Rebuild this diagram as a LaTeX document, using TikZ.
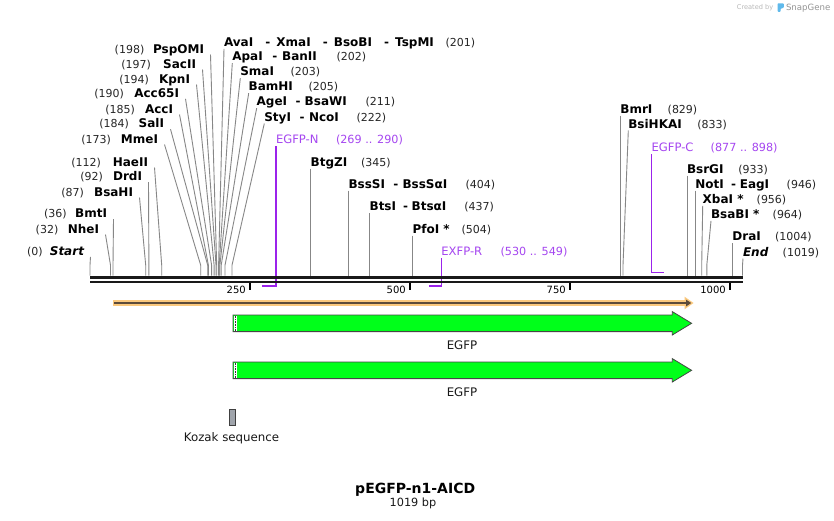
\documentclass[tikz,border=0pt]{standalone}
\usepackage{fontspec}
\setmainfont{DejaVu Sans}
\usetikzlibrary{calc}
\definecolor{enzgray}{RGB}{135,135,135}
\definecolor{primline}{RGB}{155,35,235}
\definecolor{primtxt}{RGB}{165,70,240}
\definecolor{gfp}{RGB}{0,255,26}
\definecolor{gfpedge}{RGB}{70,70,70}
\definecolor{orfo}{RGB}{250,200,125}
\definecolor{orfi}{RGB}{92,75,58}
\definecolor{koz}{RGB}{160,165,172}
\newcommand\dsep{\hspace{0pt plus 2fil}-\hspace{0pt plus 1fil}}
\tikzset{
  nm/.style={font=\fontsize{12}{14}\selectfont\bfseries, text=black, inner sep=0pt, outer sep=0pt},
  num/.style={font=\fontsize{11}{13}\selectfont, text=black!85, inner sep=0pt, outer sep=0pt},
  ptxt/.style={font=\fontsize{11.6}{13}\selectfont, text=primtxt, inner sep=0pt, outer sep=0pt},
  pnum/.style={font=\fontsize{11.2}{13}\selectfont, text=primtxt, inner sep=0pt, outer sep=0pt},
  enzline/.style={draw=enzgray, line width=0.9pt},
  primpath/.style={draw=primline, line width=1.5pt},
  ticklbl/.style={font=\fontsize{10}{12}\selectfont, text=black, inner sep=0pt, anchor=base east},
  featlbl/.style={font=\fontsize{11.8}{13}\selectfont, text=black!90, inner sep=0pt},
  gfparrow/.style={fill=gfp, draw=gfpedge, line width=0.8pt, line join=miter},
}
% left-side label: id, number, number right x, name, name right x, baseline y, cut x
\newcommand\leftenz[7]{%
  \node[num, anchor=base east] (#1-n) at (#3,#6) {#2};
  \node[nm, anchor=base east] (#1) at (#5,#6) {#4};
  \coordinate (#1-c) at (#7,275.7);
  \draw[enzline] ($(#1.base east)+(6.5,1.5)$) -- ($(#1-c)+(0,-10.5)$) -- (#1-c);
}
% right-side label: id, name, name left x, baseline y, number, number left x, cut x
\newcommand\rightenz[7]{%
  \node[nm, anchor=base west] (#1) at (#3,#4) {#2};
  \node[num, anchor=base west] (#1-n) at (#6,#4) {#5};
  \coordinate (#1-c) at (#7,275.7);
  \draw[enzline] ($(#1.base west)+(0,2.5)$) -- ($(#1-c)+(0,-10.5)$) -- (#1-c);
}
\begin{document}
\begin{tikzpicture}[x=1pt,y=-1pt]
\useasboundingbox (0,0) rectangle (834,520);
\fill[white] (0,0) rectangle (834,520);

% watermark
\node[anchor=base west, inner sep=0pt, text=black!28, font=\fontsize{6.6}{7}\selectfont] (wm1) at (736.7,9.5) {Created by};
\fill[rounded corners=0.8pt, color={rgb,255:red,95;green,185;blue,235}] (777.5,3.4) -- (783.8,3.4) -- (783.8,7.8) -- (780.6,8.6) -- (780.6,11.8) -- (777.5,11.8) -- cycle;
\node[anchor=base west, inner sep=0pt, text=black!42, font=\fontsize{8.6}{9}\selectfont] (wm2) at (785.8,10.6) {SnapGene};

% primers (drawn below the bar)
\node[ptxt, anchor=base west] (egfpn) at (276,143) {EGFP-N};
\node[pnum, anchor=base west] (egfpn-n) at (336,143) {(269 .. 290)};
\coordinate (egfpn-b) at (276,286);
\coordinate (egfpn-a) at (262.3,286);
\draw[primpath] ($(egfpn.base west)+(0,3)$) -- (egfpn-b) -- (egfpn-a);

\node[ptxt, anchor=base west] (exfpr) at (441.3,255.3) {EXFP-R};
\node[pnum, anchor=base west] (exfpr-n) at (500.5,255.3) {(530 .. 549)};
\coordinate (exfpr-b) at (441.3,286);
\coordinate (exfpr-a) at (429.2,286);
\draw[primpath] ($(exfpr.base west)+(0,3)$) -- (exfpr-b) -- (exfpr-a);

\node[ptxt, anchor=base west] (egfpc) at (651.5,151.3) {EGFP-C};
\node[pnum, anchor=base west] (egfpc-n) at (710.7,151.3) {(877 .. 898)};
\coordinate (egfpc-b) at (651.5,272.7);
\coordinate (egfpc-a) at (664.3,272.7);
\draw[primpath] ($(egfpc.base west)+(0,3)$) -- (egfpc-b) -- (egfpc-a);

% left labels
\leftenz{pspomi}{(198)}{144.3}{PspOMI}{204}{53}{216.7}
\leftenz{sacii}{(197)}{151}{SacII}{196}{68}{216.0}
\leftenz{kpni}{(194)}{149}{KpnI}{190}{83}{214.1}
\leftenz{acc65i}{(190)}{124}{Acc65I}{179}{97.3}{211.6}
\leftenz{acci}{(185)}{135}{AccI}{173}{113}{208.4}
\leftenz{sali}{(184)}{129}{SalI}{164}{127.7}{207.7}
\leftenz{mmei}{(173)}{111}{MmeI}{158}{143}{200.7}
\leftenz{haeii}{(112)}{101}{HaeII}{148}{166}{161.7}
\leftenz{drdi}{(92)}{103}{DrdI}{142}{180.7}{148.9}
\leftenz{bsahi}{(87)}{84}{BsaHI}{133}{196}{145.7}
\leftenz{bmti}{(36)}{66.7}{BmtI}{107}{217.7}{113}
\leftenz{nhei}{(32)}{58.3}{NheI}{99}{233}{110.5}
\leftenz{start}{(0)}{42.7}{\itshape Start}{84}{255.3}{90}

% middle and right labels
\rightenz{avai}{\makebox[216pt][l]{AvaI\dsep XmaI\dsep BsoBI\dsep TspMI}}{224}{46.3}{(201)}{445.7}{218.6}
\rightenz{apai}{\makebox[89.4pt][l]{ApaI\dsep BanII}}{232.3}{60.7}{(202)}{336.7}{219.2}
\rightenz{smai}{SmaI}{240.3}{75.7}{(203)}{290.7}{219.9}
\rightenz{bamhi}{BamHI}{248.7}{90.7}{(205)}{308.7}{221.2}
\rightenz{agei}{\makebox[94.3pt][l]{AgeI\dsep BsaWI}}{256.7}{105.7}{(211)}{365.7}{225}
\rightenz{styi}{\makebox[79pt][l]{StyI\dsep NcoI}}{264.3}{121}{(222)}{356.7}{232}
\rightenz{btgzi}{BtgZI}{310.7}{166}{(345)}{361}{310.7}
\rightenz{bsssi}{\makebox[103pt][l]{BssSI\dsep BssSαI}}{348.5}{188}{(404)}{465.7}{348.5}
\rightenz{btsi}{\makebox[80.4pt][l]{BtsI\dsep BtsαI}}{369.6}{210.7}{(437)}{464.3}{369.6}
\rightenz{pfoi}{PfoI *}{412.5}{233}{(504)}{461.7}{412.5}
\rightenz{bmri}{BmrI}{620.4}{113}{(829)}{667.7}{620.4}
\rightenz{bsihkai}{BsiHKAI}{628.3}{128}{(833)}{697.3}{623}
\rightenz{bsrgi}{BsrGI}{687}{173}{(933)}{738.3}{687}
\rightenz{noti}{\makebox[77.6pt][l]{NotI\dsep EagI}}{695.3}{188}{(946)}{786.7}{695.3}
\rightenz{xbai}{XbaI *}{702.7}{203.3}{(956)}{756.7}{701.7}
\rightenz{bsabi}{BsaBI *}{711}{218.3}{(964)}{772.7}{706.8}
\rightenz{drai}{DraI}{732.4}{240.7}{(1004)}{775}{732.4}
\rightenz{end}{\itshape End}{743}{256}{(1019)}{782.7}{742.5}

% sequence bar
\coordinate (seqL) at (90,0);
\coordinate (seqR) at (743,0);
\draw[black!90, line width=3.3pt] (seqL |- 0,277.3) -- (seqR |- 0,277.3);
\draw[black!90, line width=2.3pt] (seqL |- 0,281.8) -- (seqR |- 0,281.8);

% ticks
\foreach \x/\l in {250/250,410/500,570/750,730/1000}{
  \draw[black, line width=1.4pt] (\x,283) -- (\x,290);
  \node[ticklbl] at (\x-4,293) {\l};
}

% ORF arrow (thin, orange)
\fill[orfo] (112.7,300.3) rectangle (686,305.7);
\fill[orfo] (684.5,296.7) -- (693.5,303) -- (684.5,309.3) -- cycle;
\draw[orfi, line width=1.9pt] (114,303) -- (687,303);
\fill[orfi] (686,299.6) -- (691.2,303) -- (686,306.4) -- cycle;

% EGFP feature arrows
\foreach \c/\nm in {323.3/egfpA,370.3/egfpB}{
  \draw[gfparrow] (233,\c-8.3) -- (672.3,\c-8.3) -- (672.3,\c-11.7) -- (691.6,\c) -- (672.3,\c+11.7) -- (672.3,\c+8.3) -- (233,\c+8.3) -- cycle;
  \fill[white] (233.9,\c-7.8) rectangle (237,\c+7.8);
  \draw[black!80, line width=0.7pt, dash pattern=on 0.8pt off 0.8pt] (235.4,\c-7.6) -- (235.4,\c+7.6);
}
\node[featlbl] (egfp1) at (462,345) {EGFP};
\node[featlbl] (egfp2) at (462,392) {EGFP};

% Kozak
\draw[fill=koz, draw=black!75, line width=0.8pt] (229.4,409.3) rectangle (235.3,425.7);
\node[featlbl] (kozak) at (231.5,438) {Kozak sequence};

% title
\node[inner sep=0pt, font=\fontsize{14}{16}\selectfont\bfseries] (title) at (415.2,489.3) {pEGFP-n1-AICD};
\node[inner sep=0pt, font=\fontsize{11.3}{13}\selectfont, text=black!90] (bp) at (413,503.3) {1019 bp};
\end{tikzpicture}
\end{document}
